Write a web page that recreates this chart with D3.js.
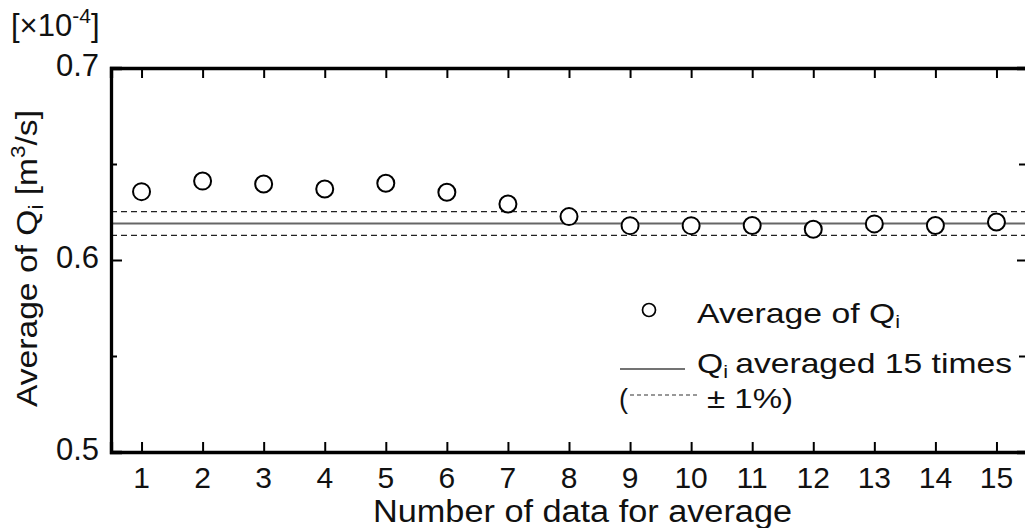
<!DOCTYPE html>
<html>
<head>
<meta charset="utf-8">
<script src="https://cdn.jsdelivr.net/npm/d3@7/dist/d3.min.js"></script>
<style>
html,body{margin:0;padding:0;background:#fff;}
svg{display:block;}
text{font-family:"Liberation Sans",Arial,sans-serif;fill:#111;}
</style>
</head>
<body>
<svg id="chart" width="1025" height="528"></svg>
<script>
// ---- data ----
const nData = [1,2,3,4,5,6,7,8,9,10,11,12,13,14,15];
const avgQ = [0.6356,0.6411,0.6396,0.6370,0.6400,0.6353,0.6292,0.6226,0.6179,0.6179,0.6180,0.6160,0.6188,0.6180,0.6198];
const meanQ15 = 0.6190;
const bandPct = 0.01;
const xTicks = [1,2,3,4,5,6,7,8,9,10,11,12,13,14,15];
const yMajorTicks = [0.5,0.6,0.7];
const yMinorTicks = [0.55,0.65];
const xTitle = "Number of data for average";
const legendLabels = ["Average of  Q", "Q", "averaged 15 times", "± 1%)"];

// ---- layout ----
const svg = d3.select("#chart");
const mLeft = 111, mRight = 1027, mTop = 68, mBottom = 452;
const x = d3.scaleLinear().domain([0.5,15.5]).range([mLeft,mRight]);
const y = d3.scaleLinear().domain([0.5,0.7]).range([mBottom,mTop]);

// reference lines
const band = [meanQ15*(1+bandPct), meanQ15*(1-bandPct)];
svg.append("line").attr("x1",mLeft).attr("x2",mRight).attr("y1",y(meanQ15)).attr("y2",y(meanQ15))
  .attr("stroke","#666").attr("stroke-width",2);
svg.selectAll("line.band").data(band).enter().append("line").attr("class","band")
  .attr("x1",mLeft).attr("x2",mRight).attr("y1",d=>y(d)).attr("y2",d=>y(d))
  .attr("stroke","#222").attr("stroke-width",1.4).attr("stroke-dasharray","6,4");

// axes
const axB = svg.append("g").attr("transform",`translate(0,${mBottom})`)
  .call(d3.axisBottom(x).tickValues(xTicks).tickSize(-10).tickPadding(0).tickFormat(""));
const axT = svg.append("g").attr("transform",`translate(0,${mTop})`)
  .call(d3.axisTop(x).tickValues(xTicks).tickSize(-10).tickFormat(""));
const axL = svg.append("g").attr("transform",`translate(${mLeft},0)`)
  .call(d3.axisLeft(y).tickValues(yMajorTicks).tickSize(-11).tickFormat(""));
const axLm = svg.append("g").attr("transform",`translate(${mLeft},0)`)
  .call(d3.axisLeft(y).tickValues(yMinorTicks).tickSize(-6).tickFormat(""));
const axR = svg.append("g").attr("transform",`translate(${mRight},0)`)
  .call(d3.axisRight(y).tickValues(yMajorTicks).tickSize(-10).tickFormat(""));
const axRm = svg.append("g").attr("transform",`translate(${mRight},0)`)
  .call(d3.axisRight(y).tickValues(yMinorTicks).tickSize(-8).tickFormat(""));
[axB,axT,axL,axLm,axR,axRm].forEach(g=>{
  g.select(".domain").attr("stroke","#000").attr("stroke-width",3.3);
  g.selectAll(".tick line").attr("stroke","#000").attr("stroke-width",2);
});
axLm.select(".domain").remove(); axRm.select(".domain").remove();

// tick labels
svg.selectAll("text.xt").data(xTicks).enter().append("text").attr("class","xt")
  .attr("x",d=>x(d)).attr("y",488).attr("text-anchor","middle").attr("font-size",30)
  .text(d=>d);
svg.selectAll("text.yt").data(yMajorTicks).enter().append("text").attr("class","yt")
  .attr("x",99).attr("y",d=>y(d)+8).attr("text-anchor","end").attr("font-size",31)
  .text(d=>d.toFixed(1));

// multiplier
const mult = svg.append("text").attr("x",11).attr("y",36).attr("font-size",31);
mult.append("tspan").text("[×10");
mult.append("tspan").attr("font-size",21).attr("dy",-13).text("-4");
mult.append("tspan").attr("dy",13).text("]");

// axis titles
svg.append("text").attr("x",373).attr("y",522).attr("font-size",31)
  .attr("textLength",419).attr("lengthAdjust","spacingAndGlyphs").text(xTitle);
const yt = svg.append("text").attr("transform","translate(37,407) rotate(-90)")
  .attr("font-size",30).attr("textLength",297).attr("lengthAdjust","spacingAndGlyphs");
yt.append("tspan").text("Average of Q");
yt.append("tspan").attr("font-size",20).attr("dy",6).text("i");
yt.append("tspan").attr("dy",-6).text(" [m");
yt.append("tspan").attr("font-size",20).attr("dy",-12).text("3");
yt.append("tspan").attr("dy",12).text("/s]");

// points
svg.selectAll("circle.pt").data(nData).enter().append("circle").attr("class","pt")
  .attr("cx",d=>x(d)).attr("cy",(d,i)=>y(avgQ[i])).attr("r",8.5)
  .attr("fill","#fff").attr("stroke","#000").attr("stroke-width",2);

// legend
svg.append("circle").attr("cx",649).attr("cy",310).attr("r",6.5)
  .attr("fill","#fff").attr("stroke","#000").attr("stroke-width",1.7);
const l1 = svg.append("text").attr("x",697).attr("y",323).attr("font-size",28)
  .attr("textLength",203).attr("lengthAdjust","spacingAndGlyphs");
l1.append("tspan").text(legendLabels[0]);
l1.append("tspan").attr("font-size",18).attr("dy",5).text("i");
svg.append("line").attr("x1",620).attr("x2",685).attr("y1",369).attr("y2",369)
  .attr("stroke","#444").attr("stroke-width",1.5);
const l2 = svg.append("text").attr("x",697).attr("y",373).attr("font-size",28)
  .attr("textLength",315).attr("lengthAdjust","spacingAndGlyphs");
l2.append("tspan").text(legendLabels[1]);
l2.append("tspan").attr("font-size",18).attr("dy",5).text("i");
l2.append("tspan").attr("dy",-5).attr("dx",6).text(legendLabels[2]);
svg.append("text").attr("x",619).attr("y",408).attr("font-size",27).text("(");
svg.append("line").attr("x1",630).attr("x2",698).attr("y1",395).attr("y2",395)
  .attr("stroke","#333").attr("stroke-width",1.2).attr("stroke-dasharray","4,3");
svg.append("text").attr("x",707).attr("y",408).attr("font-size",27)
  .attr("textLength",86).attr("lengthAdjust","spacingAndGlyphs").text(legendLabels[3]);
</script>
</body>
</html>
